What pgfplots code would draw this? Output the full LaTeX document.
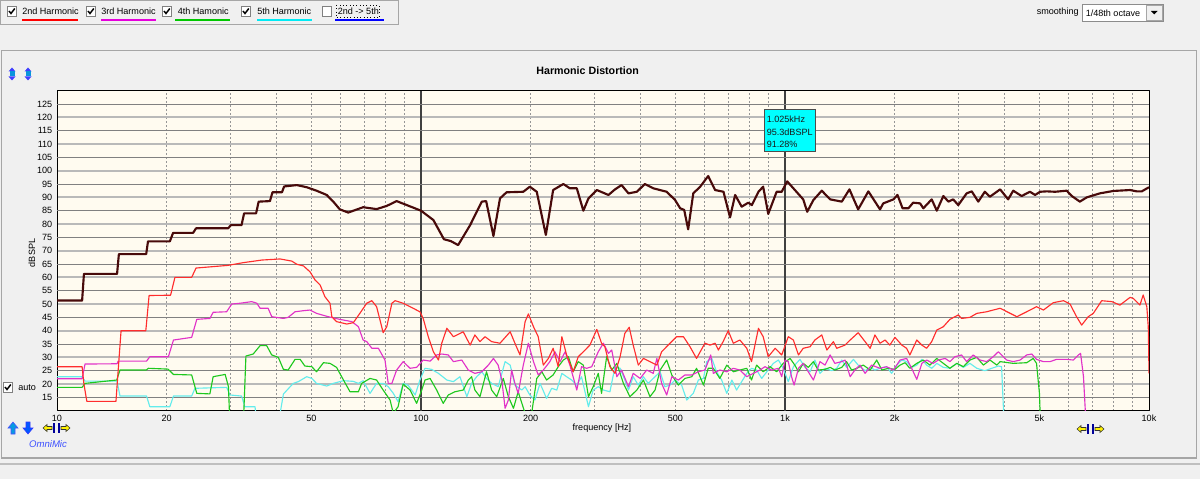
\documentclass[border=0pt]{standalone}
\usepackage{pgfplots}
\pgfplotsset{compat=1.18}
\usepackage{fontspec}
\setmainfont{Liberation Sans}
\definecolor{guibg}{RGB}{240,240,240}
\definecolor{plotbg}{RGB}{255,251,240}
\definecolor{fund}{RGB}{72,10,10}
\definecolor{h2}{RGB}{255,45,45}
\definecolor{h3}{RGB}{225,50,200}
\definecolor{h4}{RGB}{30,200,30}
\definecolor{h5}{RGB}{100,236,236}
\definecolor{u2}{RGB}{255,0,0}
\definecolor{u3}{RGB}{230,0,220}
\definecolor{u4}{RGB}{0,200,0}
\definecolor{u5}{RGB}{0,235,245}
\definecolor{u6}{RGB}{0,0,255}
\definecolor{gridmaj}{RGB}{185,185,185}
\definecolor{gridmin}{RGB}{128,128,128}
\definecolor{gridv}{RGB}{150,150,150}
\definecolor{cursor}{RGB}{64,64,64}
\definecolor{tipcyan}{RGB}{0,255,255}
\definecolor{omniblue}{RGB}{60,80,255}
\newcommand\gf{\fontsize{6.8}{8}\selectfont}
\newcommand\cbox[3]{%
  \fill[white] (#1,#2) rectangle ++(9.5,9.5);
  \draw[black!50, line width=0.6pt] (#1,#2) rectangle ++(9.5,9.5);
  \ifnum#3=1 \draw[black, line width=1.1pt] (#1,#2) ++(2,4.5) -- ++(2,2.5) -- ++(3.8,-5);\fi
}
\begin{document}
\begin{tikzpicture}
\path[use as bounding box, fill=guibg] (0pt,0pt) rectangle (900pt,359.25pt);
\begin{scope}[shift={(0pt,359.25pt)}, x=0.75pt, y=-0.75pt]
  % toolbar
  \draw[black!35, line width=0.75pt] (0.5,0.5) rectangle (398.5,24.5);
  \cbox{7}{6.5}{1} \cbox{86}{6.5}{1} \cbox{162}{6.5}{1} \cbox{241}{6.5}{1} \cbox{322}{6.5}{0}
  \node[anchor=west, inner sep=0, font=\gf] at (22,11.5) {2nd Harmonic};
  \node[anchor=west, inner sep=0, font=\gf] at (101,11.5) {3rd Harmonic};
  \node[anchor=west, inner sep=0, font=\gf] at (177.5,11.5) {4th Hamonic};
  \node[anchor=west, inner sep=0, font=\gf] at (257,11.5) {5th Harmonic};
  \node[anchor=west, inner sep=0, font=\gf] at (337.5,11.5) {2nd -> 5th};
  \draw[u2, line width=1.3pt] (22,19.7) -- (78,19.7);
  \draw[u3, line width=1.3pt] (101,19.7) -- (156,19.7);
  \draw[u4, line width=1.3pt] (175,19.7) -- (230,19.7);
  \draw[u5, line width=1.3pt] (257,19.7) -- (312,19.7);
  \draw[u6, line width=1.3pt] (335,19.7) -- (384,19.7);
  \draw[black, dotted, line width=0.5pt] (336,5) rectangle (379,17.5);
  % smoothing
  \node[anchor=west, inner sep=0, font=\gf] at (1036.5,12.5) {smoothing};
  \fill[white] (1082.5,4) rectangle (1163.5,21.5);
  \draw[black!45, line width=0.6pt] (1082.5,4) rectangle (1163.5,21.5);
  \node[anchor=west, inner sep=0, font=\gf] at (1085.5,12.8) {1/48th octave};
  \fill[guibg] (1146,5.5) rectangle (1162,20);
  \draw[black!35, line width=0.5pt] (1146,5.5) rectangle (1162,20);
  \fill[black] (1151,11) -- (1157.5,11) -- (1154.25,14.5) -- cycle;
  % panel frame
  \draw[black!35, line width=0.9pt] (1.5,458) -- (1.5,50.5) -- (1196.5,50.5) -- (1196.5,458) -- cycle;
  \draw[black!25, line width=0.9pt] (0,464) -- (1200,464);
  % top-left icons
  \foreach \cx in {12,28} {
    \fill[blue!75] (\cx,67.5) -- (\cx+3.5,71.5) -- (\cx-3.5,71.5) -- cycle;
    \fill[blue!75] (\cx,80.5) -- (\cx+3.5,76.5) -- (\cx-3.5,76.5) -- cycle;
    \fill[cyan!80!blue] (\cx-2.5,71.5) rectangle (\cx+2.5,76.5);
  }
  % bottom-left icons
  \filldraw[fill=cyan!85!blue, draw=blue!70, line width=0.4pt] (13,422) -- (18,428) -- (15,428) -- (15,434) -- (11,434) -- (11,428) -- (8,428) -- cycle;
  \filldraw[fill=blue!65!cyan, draw=blue!80, line width=0.4pt] (28,434) -- (33,428) -- (30,428) -- (30,422) -- (26,422) -- (26,428) -- (23,428) -- cycle;
  \foreach \bx/\by in {43/428, 1077/429} {
    \filldraw[fill=yellow, draw=black!80, line width=0.4pt] (\bx,\by) -- (\bx+4,\by-3.5) -- (\bx+4,\by-1.5) -- (\bx+9,\by-1.5) -- (\bx+9,\by+1.5) -- (\bx+4,\by+1.5) -- (\bx+4,\by+3.5) -- cycle;
    \draw[blue!60!black, line width=0.9pt] (\bx+11,\by-5) -- (\bx+11,\by+5);
    \draw[blue!60!black, line width=0.9pt] (\bx+16,\by-5) -- (\bx+16,\by+5);
    \filldraw[fill=yellow, draw=black!80, line width=0.4pt] (\bx+27,\by) -- (\bx+23,\by-3.5) -- (\bx+23,\by-1.5) -- (\bx+18,\by-1.5) -- (\bx+18,\by+1.5) -- (\bx+23,\by+1.5) -- (\bx+23,\by+3.5) -- cycle;
  }
  \node[inner sep=0, font=\fontsize{7.2}{8.5}\selectfont\itshape, text=omniblue] at (48,444) {OmniMic};
  % auto checkbox
  \cbox{3}{382.5}{1}
  \node[anchor=west, inner sep=0, font=\gf] at (18,387.5) {auto};
\end{scope}

\begin{axis}[
  at={(42.75pt,51.225pt)}, anchor=south west,
  scale only axis, width=819pt, height=240pt,
  xmin=1, xmax=4, ymin=10, ymax=130,
  axis background/.style={fill=plotbg},
  axis line style={black, line width=0.75pt},
  tick style={draw=none},
  major tick length=0pt, minor tick length=0pt,
  xtick={1,1.30103,1.69897,2,2.30103,2.69897,3,3.30103,3.69897,4},
  xticklabels={10,20,50,100,200,500,1k,2k,5k,10k},
  minor xtick={1.47712,1.60206,1.77815,1.84510,1.90309,1.95424,2.47712,2.60206,2.77815,2.84510,2.90309,2.95424,3.47712,3.60206,3.77815,3.84510,3.90309,3.95424},
  ytick={20,30,...,120},
  extra y ticks={15,25,...,125},
  extra y tick style={grid=major, y grid style={gridmin, line width=0.75pt}, major grid style={gridmin, line width=0.75pt}},
  extra x ticks={2,3}, extra x tick labels={},
  extra x tick style={grid=major, x grid style={solid, cursor, line width=0.8pt}, major grid style={solid, cursor, line width=0.8pt}},
  xmajorgrids, xminorgrids, ymajorgrids,
  x grid style={gridv, dash pattern=on 1.5pt off 1.5pt, line width=0.6pt},
  y grid style={gridmaj, line width=1.5pt},
  tick label style={font=\gf},
  /pgf/number format/assume math mode=true,
  xlabel={frequency [Hz]},
  xlabel style={font=\gf, at={(rel axis cs:0.499,0)}, anchor=center, yshift=-13pt},
  ylabel={dBSPL},
  ylabel style={font=\gf, at={(rel axis cs:-0.0229,0.493)}, anchor=center},
  title={Harmonic Distortion},
  title style={font=\fontsize{8}{9.6}\selectfont\bfseries, at={(rel axis cs:0.486,1)}, anchor=center, yshift=8.8pt},
  line join=round,
]
% 5th harmonic
\addplot[h5, line width=0.85pt] coordinates {
(1.000,22.75)(1.069,22.75)(1.077,21.1)(1.165,21.1)(1.173,15.5)(1.246,15.5)(1.255,11.5)(1.310,11.5)(1.320,15.5)(1.370,15.5)(1.379,18.4)(1.466,18.75)(1.475,15.9)(1.507,15.5)(1.516,11.5)(1.544,11.5)(1.549,5)(1.608,5)(1.622,16.25)(1.649,20.25)(1.663,20.9)(1.686,22.75)(1.700,22.1)(1.713,20.25)(1.741,19.25)(1.759,20.25)(1.787,21.25)(1.814,21)(1.828,20.25)(1.841,21.25)(1.860,16.5)(1.878,20.25)(1.896,20.25)(1.910,19)(1.924,16.5)(1.937,13.4)(1.951,20.25)(1.965,19.5)(1.984,15.9)(1.997,21.5)(2.011,25.9)(2.029,25.5)(2.048,24)(2.071,21.5)(2.089,20.9)(2.107,22.75)(2.126,15.25)(2.139,20.25)(2.153,22.75)(2.167,24.6)(2.180,22.1)(2.194,20.25)(2.212,19)(2.231,28.4)(2.245,27.1)(2.258,19.6)(2.277,17.75)(2.286,19)(2.299,15.9)(2.313,14)(2.327,20.25)(2.345,14.6)(2.359,18.4)(2.373,17.75)(2.387,24)(2.400,22.75)(2.414,21.5)(2.428,19.6)(2.441,22.75)(2.460,11.5)(2.473,17.75)(2.487,19)(2.501,17.75)(2.519,17.1)(2.533,26.5)(2.547,25.9)(2.560,21.5)(2.570,17.75)(2.583,22.75)(2.597,19.6)(2.611,22.75)(2.624,20.25)(2.643,22.75)(2.657,24.6)(2.670,19)(2.684,19.6)(2.698,21.5)(2.716,19.6)(2.730,14)(2.748,16.5)(2.762,21.5)(2.776,22.1)(2.785,28.4)(2.799,29.6)(2.812,24.6)(2.826,21.5)(2.840,16.5)(2.854,21.5)(2.867,17.75)(2.881,20.9)(2.895,24)(2.908,25.9)(2.922,25.25)(2.936,22.1)(2.950,24.6)(2.968,27.75)(2.982,29)(2.995,25.9)(3.009,20.9)(3.023,26.5)(3.041,29.25)(3.055,26.25)(3.069,24.6)(3.082,29)(3.096,24)(3.110,25.9)(3.128,25)(3.142,25.9)(3.156,29)(3.169,26.25)(3.188,29.25)(3.201,27.1)(3.220,25)(3.234,26.25)(3.247,25.25)(3.261,25.9)(3.279,26.5)(3.293,24)(3.307,27.1)(3.321,29)(3.334,28.4)(3.348,26.25)(3.362,27.1)(3.376,29.25)(3.389,27.1)(3.403,25.9)(3.417,27.75)(3.435,26.25)(3.453,25.9)(3.472,27.75)(3.490,26.25)(3.508,27.75)(3.527,25.9)(3.549,25)(3.568,25.9)(3.586,26.75)(3.595,26.5)(3.602,5)
};
% 4th harmonic
\addplot[h4, line width=0.85pt] coordinates {
(1.000,18.75)(1.069,18.75)(1.077,20.25)(1.164,21.5)(1.173,25.25)(1.245,25.25)(1.251,25.9)(1.305,25.6)(1.320,23.6)(1.370,23.4)(1.384,16.5)(1.420,16.3)(1.429,22.75)(1.462,23.6)(1.471,19)(1.475,5)(1.512,5)(1.519,30.5)(1.539,31.25)(1.558,34.4)(1.576,34.4)(1.590,30.9)(1.608,30)(1.622,25.5)(1.635,25.25)(1.654,29.25)(1.668,29.25)(1.681,26.75)(1.700,26.5)(1.713,24.6)(1.732,28)(1.750,27.75)(1.768,26.25)(1.787,21.5)(1.805,17.1)(1.828,17.1)(1.837,20.25)(1.860,22.1)(1.878,21.5)(1.896,17.75)(1.915,14)(1.924,9)(1.937,11.5)(1.951,20)(1.970,17.75)(1.988,12.75)(2.002,17.75)(2.011,21.5)(2.025,22.1)(2.043,17.75)(2.061,12.75)(2.075,15.9)(2.093,17.1)(2.116,17.75)(2.130,21.5)(2.139,22.75)(2.148,17.75)(2.162,15.25)(2.180,24.6)(2.194,17.75)(2.208,15.25)(2.226,22.1)(2.240,15.25)(2.254,10.9)(2.267,17.1)(2.286,9)(2.304,9)(2.318,22.1)(2.332,24.6)(2.345,21.5)(2.363,23.4)(2.377,26.5)(2.391,29)(2.405,30.25)(2.418,24.6)(2.432,28.4)(2.446,27.1)(2.460,15.25)(2.473,19)(2.487,24)(2.496,16.5)(2.510,30.25)(2.524,25.25)(2.538,27.75)(2.556,20.25)(2.574,15.25)(2.593,17.75)(2.611,21.5)(2.629,15.25)(2.643,17.75)(2.657,25.25)(2.675,29)(2.689,23.4)(2.707,19.6)(2.725,22.1)(2.744,22.75)(2.757,25.9)(2.776,19.6)(2.789,25.9)(2.803,25.9)(2.821,22.1)(2.840,27.1)(2.858,24.6)(2.876,25.25)(2.895,25.9)(2.908,21.5)(2.922,27.1)(2.940,24.6)(2.959,26.5)(2.977,24.6)(2.995,27.75)(3.014,29.6)(3.027,27.1)(3.037,24.6)(3.050,27.75)(3.064,26.25)(3.078,28.4)(3.091,25.25)(3.110,25.5)(3.124,26.25)(3.137,25.25)(3.156,26.25)(3.169,28.4)(3.183,25.25)(3.197,25.9)(3.215,27.1)(3.234,25.25)(3.252,29)(3.266,25.25)(3.284,25.9)(3.302,25.5)(3.316,27.1)(3.330,28)(3.343,25.9)(3.362,27.75)(3.380,29)(3.398,27.1)(3.417,29.6)(3.435,27.75)(3.453,25.9)(3.472,27.75)(3.490,26.5)(3.508,29)(3.527,30)(3.545,27.1)(3.563,29)(3.582,27.1)(3.591,28.4)(3.627,27.75)(3.664,28)(3.682,29.6)(3.691,27.75)(3.699,16.5)(3.702,5)
};
% 3rd harmonic
\addplot[h3, line width=0.85pt] coordinates {
(1.000,22)(1.069,22)(1.077,27.5)(1.165,27.6)(1.168,28.6)(1.246,28.6)(1.255,30.25)(1.306,30.25)(1.320,36.5)(1.370,37.5)(1.384,44.25)(1.420,44.6)(1.429,46.9)(1.466,47.1)(1.480,50)(1.503,50.3)(1.535,50.9)(1.549,50.3)(1.558,48.4)(1.580,48.4)(1.590,45.25)(1.622,44.6)(1.635,45)(1.654,47.1)(1.677,47.5)(1.695,47.75)(1.713,46.5)(1.745,45.25)(1.777,44.25)(1.810,43.4)(1.828,41.5)(1.841,36.5)(1.851,35.9)(1.865,33.4)(1.883,33.4)(1.901,29)(1.910,20.25)(1.920,20.25)(1.933,25.25)(1.951,28.4)(1.970,25.9)(1.988,26.25)(2.006,29)(2.025,28.6)(2.043,30.9)(2.057,31.25)(2.075,30.9)(2.089,28.4)(2.112,29)(2.130,25.25)(2.148,24)(2.167,24.6)(2.185,27.1)(2.199,29.6)(2.212,27.1)(2.222,21.5)(2.231,10.9)(2.240,14)(2.249,25.25)(2.258,20.25)(2.267,16.5)(2.281,27.1)(2.295,35.3)(2.309,28.4)(2.322,23.4)(2.336,25.25)(2.354,28.4)(2.368,32.1)(2.382,28.4)(2.396,32.1)(2.409,27.1)(2.428,17.75)(2.441,26.5)(2.455,25.9)(2.469,26.5)(2.487,32.1)(2.501,35.3)(2.515,31.5)(2.524,32.75)(2.538,22.75)(2.551,25.25)(2.570,19)(2.583,24)(2.602,22.1)(2.620,25.25)(2.638,24)(2.648,29.6)(2.661,20.25)(2.675,15.9)(2.689,22.75)(2.707,21.5)(2.725,23.4)(2.744,23.4)(2.762,24.6)(2.780,25.25)(2.796,30.9)(2.803,24)(2.821,25.25)(2.840,24.6)(2.858,25.9)(2.876,25.25)(2.895,22.75)(2.913,24)(2.931,25.25)(2.945,26.5)(2.963,25.25)(2.982,25.9)(2.991,22.75)(3.000,29)(3.009,28.4)(3.018,22.75)(3.025,19.6)(3.037,25.9)(3.050,27.75)(3.064,24.6)(3.078,21.5)(3.096,28.4)(3.110,27.1)(3.124,30.9)(3.137,27.75)(3.156,28.4)(3.165,29)(3.179,22.75)(3.192,25.25)(3.206,27.1)(3.220,24)(3.238,27.1)(3.261,25.9)(3.279,26.5)(3.298,25.25)(3.316,29)(3.334,29.6)(3.348,25.9)(3.362,21.75)(3.376,27.75)(3.389,29)(3.407,27.75)(3.421,29)(3.440,29.6)(3.453,28.4)(3.467,30.25)(3.485,30.9)(3.499,28.4)(3.517,30.9)(3.536,29)(3.554,28.4)(3.572,30.25)(3.586,32.1)(3.609,29)(3.627,28.4)(3.646,29)(3.664,30.9)(3.678,31.25)(3.691,29.25)(3.710,28.4)(3.728,28.4)(3.746,29.25)(3.774,29.25)(3.792,29)(3.806,30.9)(3.812,31.5)(3.820,22.75)(3.827,5)
};
% 2nd harmonic
\addplot[h2, line width=0.85pt] coordinates {
(1.000,26.5)(1.069,26.5)(1.074,20)(1.082,13.5)(1.162,13.5)(1.168,25)(1.176,40)(1.244,40)(1.253,53.2)(1.312,53.3)(1.324,60)(1.370,60)(1.382,63.5)(1.470,64.5)(1.511,65.5)(1.563,66.5)(1.613,66.9)(1.645,66.1)(1.659,64.9)(1.677,64.3)(1.695,62.1)(1.709,59)(1.723,57.1)(1.736,52.75)(1.750,50.3)(1.755,45.25)(1.768,43.4)(1.796,42.5)(1.814,43)(1.832,46.5)(1.851,50.3)(1.865,51.25)(1.878,49)(1.892,41.5)(1.896,39.25)(1.906,41.5)(1.920,50.3)(1.929,51.25)(1.951,50.3)(1.970,49)(1.997,47.1)(2.006,44.6)(2.020,37.75)(2.034,32.1)(2.048,29)(2.057,35.3)(2.071,40.9)(2.089,37.75)(2.116,39.6)(2.135,34.6)(2.148,38.4)(2.162,35.9)(2.176,37.75)(2.194,35.9)(2.217,35.3)(2.245,39.6)(2.258,35.3)(2.272,30.9)(2.286,43.4)(2.295,46.3)(2.309,41.5)(2.322,37.75)(2.336,27.1)(2.350,29.6)(2.363,33.4)(2.377,26.5)(2.387,37.75)(2.400,30.9)(2.418,24.6)(2.432,30.25)(2.446,32.1)(2.464,34.6)(2.483,40.5)(2.496,35.3)(2.505,34)(2.519,26.5)(2.533,24)(2.547,30.25)(2.560,39)(2.572,41.3)(2.583,34.6)(2.597,27.1)(2.611,29.6)(2.629,28.4)(2.648,27.1)(2.661,32.1)(2.679,34.6)(2.702,37.75)(2.721,37.75)(2.739,34)(2.757,29.6)(2.780,35.3)(2.794,34.6)(2.808,35.3)(2.817,32.75)(2.830,35.9)(2.844,40)(2.858,35.3)(2.876,36.5)(2.895,33.4)(2.908,28.4)(2.927,40.9)(2.940,37.75)(2.954,30.25)(2.973,33.4)(2.991,30.9)(3.009,37.75)(3.023,36.5)(3.037,30.9)(3.050,33.4)(3.069,34)(3.082,36.5)(3.101,38.4)(3.115,32.75)(3.133,35.9)(3.142,33.4)(3.165,34.6)(3.179,36.5)(3.201,39.25)(3.220,35.9)(3.234,33.4)(3.247,38.4)(3.261,35.3)(3.275,36.5)(3.288,34.6)(3.302,37.5)(3.321,34.6)(3.334,33.4)(3.343,30.9)(3.362,36.5)(3.376,34.6)(3.389,33.4)(3.403,35.9)(3.417,40.25)(3.435,41.5)(3.453,44.25)(3.476,45.9)(3.485,44.6)(3.508,45)(3.527,46.5)(3.554,47.1)(3.572,47.75)(3.591,48.4)(3.637,45.25)(3.664,47.1)(3.691,49)(3.710,47.75)(3.737,50.5)(3.765,51.25)(3.783,50)(3.801,45.25)(3.815,42.1)(3.833,45.25)(3.847,46.5)(3.870,51.25)(3.898,50.9)(3.920,49.6)(3.948,52.5)(3.957,52.1)(3.975,49.6)(3.984,53.4)(3.994,49)(3.998,41.5)(4.000,24)
};
% fundamental
\addplot[fund, line width=1.6pt] coordinates {
(1.000,51.3)(1.069,51.3)(1.074,61.3)(1.165,61.3)(1.170,68.7)(1.245,68.7)(1.250,73.5)(1.310,73.5)(1.319,76.7)(1.374,76.7)(1.382,78.4)(1.470,78.4)(1.478,79.6)(1.507,79.6)(1.514,84.0)(1.547,84.0)(1.554,88.4)(1.585,88.6)(1.592,91.9)(1.618,91.9)(1.624,94.1)(1.659,94.6)(1.686,93.8)(1.713,92.5)(1.741,90.9)(1.759,88.4)(1.777,85.5)(1.800,84.3)(1.841,86.3)(1.878,85.6)(1.906,86.8)(1.933,88.6)(1.961,87.1)(2.000,85.0)(2.034,81.5)(2.063,74.3)(2.082,73.6)(2.102,72.1)(2.135,79.6)(2.167,88.4)(2.179,88.6)(2.199,75.5)(2.217,89.6)(2.235,91.9)(2.281,92.1)(2.299,94.0)(2.318,92.1)(2.343,75.9)(2.363,92.75)(2.391,95.0)(2.409,93.4)(2.428,93.4)(2.446,85.0)(2.460,89.6)(2.483,92.75)(2.515,90.9)(2.533,93.0)(2.551,94.6)(2.570,91.5)(2.593,92.1)(2.615,95.0)(2.638,93.4)(2.675,92.1)(2.698,89.0)(2.712,85.9)(2.723,85.3)(2.734,78.0)(2.748,91.5)(2.767,94.0)(2.789,98.0)(2.808,92.75)(2.831,92.1)(2.849,82.5)(2.863,90.9)(2.881,86.5)(2.899,88.0)(2.909,87.1)(2.927,92.1)(2.940,94.0)(2.954,83.8)(2.977,92.1)(2.991,92.1)(3.006,96.0)(3.050,89.25)(3.061,84.6)(3.078,89.0)(3.101,92.5)(3.124,89.25)(3.156,88.4)(3.177,93.0)(3.201,85.5)(3.229,92.25)(3.261,85.5)(3.270,87.75)(3.298,89.25)(3.309,90.9)(3.323,85.9)(3.339,85.9)(3.352,88.0)(3.371,87.75)(3.380,85.9)(3.403,89.25)(3.417,85.0)(3.435,90.5)(3.449,88.4)(3.462,89.25)(3.476,87.1)(3.499,91.5)(3.513,92.25)(3.531,88.4)(3.549,92.1)(3.563,90.25)(3.591,93.0)(3.613,89.25)(3.627,92.5)(3.650,90.5)(3.673,92.1)(3.687,90.9)(3.701,92.1)(3.719,92.25)(3.742,92.1)(3.774,92.5)(3.788,90.5)(3.810,88.4)(3.829,90.0)(3.865,91.5)(3.902,92.4)(3.948,92.75)(3.966,92.25)(3.980,92.25)(4.000,93.8)
};
\end{axis}

\begin{scope}[shift={(0pt,359.25pt)}, x=0.75pt, y=-0.75pt]
  \filldraw[fill=tipcyan, draw=black!70, line width=0.6pt] (764,109.5) rectangle (815,151.5);
  \node[anchor=west, inner sep=0, font=\gf, text=black!90] at (766.5,119) {1.025kHz};
  \node[anchor=west, inner sep=0, font=\gf, text=black!90] at (766.5,132) {95.3dBSPL};
  \node[anchor=west, inner sep=0, font=\gf, text=black!90] at (766.5,144.5) {91.28\%};
\end{scope}
\end{tikzpicture}
\end{document}
